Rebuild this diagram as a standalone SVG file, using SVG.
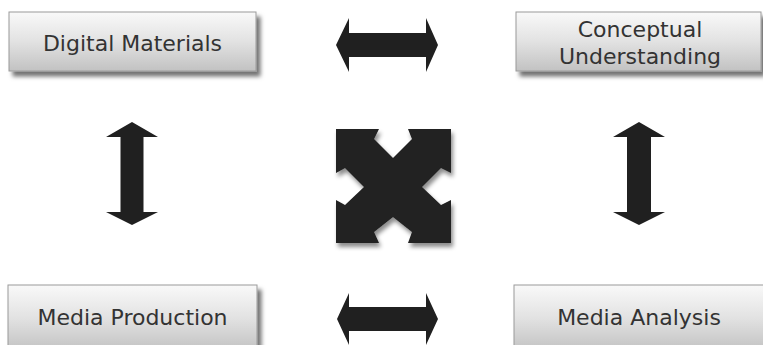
<svg xmlns="http://www.w3.org/2000/svg" width="763" height="345" viewBox="0 0 763 345">
  <defs>
    <linearGradient id="boxGrad" x1="0" y1="0" x2="0" y2="1">
      <stop offset="0" stop-color="#f9f9f9"/>
      <stop offset="0.5" stop-color="#e2e2e2"/>
      <stop offset="1" stop-color="#c2c2c2"/>
    </linearGradient>
    <filter id="shadow" x="-10%" y="-10%" width="130%" height="140%">
      <feDropShadow dx="4" dy="5" stdDeviation="2" flood-color="#000" flood-opacity="0.55"/>
    </filter>
    <filter id="shadowX" x="-10%" y="-10%" width="130%" height="130%">
      <feDropShadow dx="2" dy="4" stdDeviation="2" flood-color="#000" flood-opacity="0.45"/>
    </filter>
  </defs>
  <style>
    .box { fill: url(#boxGrad); stroke: #9a9a9a; stroke-width: 1; filter: url(#shadow); }
    .label { font-family: "DejaVu Sans", Verdana, sans-serif; font-size: 22px; fill: #333333; text-anchor: middle; }
    .arrow { fill: #202020; }
  </style>
  <rect width="763" height="345" fill="#ffffff"/>

  <g id="digital-materials">
    <rect class="box" x="9" y="12" width="247" height="59"/>
    <text class="label" x="132.5" y="51">Digital Materials</text>
  </g>
  <g id="conceptual-understanding">
    <rect class="box" x="516" y="12" width="245" height="59"/>
    <text class="label" x="640" y="37">Conceptual</text>
    <text class="label" x="640" y="64">Understanding</text>
  </g>
  <g id="media-production">
    <rect class="box" x="8" y="285" width="249" height="66"/>
    <text class="label" x="132.5" y="325">Media Production</text>
  </g>
  <g id="media-analysis">
    <rect class="box" x="514" y="285" width="254" height="66"/>
    <text class="label" x="639" y="325">Media Analysis</text>
  </g>

  <g id="connectors">
    <path class="arrow" d="M336,45 L349,18 L349,33 L426,33 L426,18 L438,45 L426,72 L426,57 L349,57 L349,72 Z"/>
    <path class="arrow" d="M337,319 L349,293 L349,307 L426,307 L426,293 L438,319 L426,345 L426,331 L349,331 L349,345 Z"/>
    <path class="arrow" d="M132,122 L158,137 L143.5,137 L143.5,212 L158,212 L132,225 L106,212 L120.5,212 L120.5,137 L106,137 Z"/>
    <path class="arrow" d="M639,122 L665,137 L651,137 L651,212 L665,212 L639,225 L613,212 L627,212 L627,137 L613,137 Z"/>
  </g>

  <g id="center-icon">
    <path class="arrow" filter="url(#shadowX)" d="M336,129 L379,129 L374,139 L393,158 L412,139 L408,129 L451,129 L451,173 L441,168 L422,187 L441,205 L451,200 L451,243 L408,243 L412,232 L393,217 L374,232 L379,243 L336,243 L336,200 L345,205 L364,187 L345,168 L336,173 Z"/>
  </g>
</svg>
